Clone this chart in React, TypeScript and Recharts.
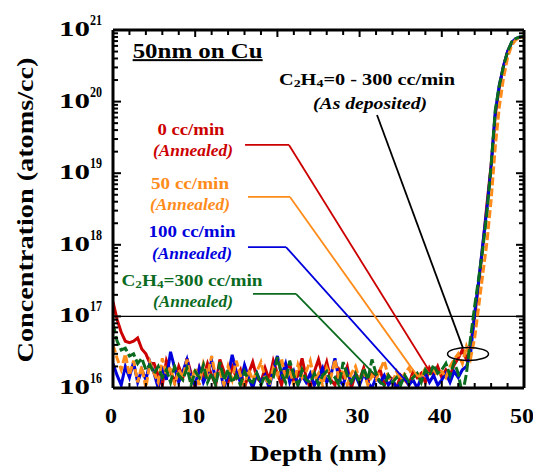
import { Line, LineChart, ReferenceDot, ReferenceLine, XAxis, YAxis } from "recharts";

const FONT = '"Liberation Serif", "Times New Roman", serif';
const W = 533;
const H = 469;

// depth grid (nm), 10 points per row
const depth = [
  0, 0.5, 1, 1.5, 2, 2.5, 3, 3.5, 4, 4.5,
  5, 5.5, 6, 6.5, 7, 7.5, 8, 8.5, 9, 9.5,
  10, 10.5, 11, 11.5, 12, 12.5, 13, 13.5, 14, 14.5,
  15, 15.5, 16, 16.5, 17, 17.5, 18, 18.5, 19, 19.5,
  20, 20.5, 21, 21.5, 22, 22.5, 23, 23.5, 24, 24.5,
  25, 25.5, 26, 26.5, 27, 27.5, 28, 28.5, 29, 29.5,
  30, 30.5, 31, 31.5, 32, 32.5, 33, 33.5, 34, 34.5,
  35, 35.5, 36, 36.5, 37, 37.5, 38, 38.5, 39, 39.5,
  40, 40.5, 41, 41.5, 42, 42.5, 43, 43.5, 44, 44.5,
  45, 45.5, 46, 46.5, 47, 47.5, 48, 48.5, 49, 49.5,
  50,
];

// concentrations in units of 1e16 atoms/cc
const ann0 = [
  16, 9, 6, 4.5, 4.3, 4.5, 5, 3.5, 3.0, 2.2,
  2.2, 1.5, 1.1, 2.4, 1.7, 1.2, 2.0, 1.4, 2.6, 1.6,
  1.0, 1.9, 1.4, 2.2, 1.5, 1.1, 2.5, 1.7, 1.2, 2.0,
  1.4, 1.8, 1.0, 1.6, 2.3, 1.4, 1.2, 1.9, 1.3, 2.4,
  1.6, 1.1, 1.8, 2.2, 1.2, 1.5, 2.6, 1.4, 1.0, 1.7,
  2.5, 1.5, 2.3, 1.3, 1.1, 1.8, 1.4, 2.0, 1.0, 1.6,
  1.3, 1.9, 1.2, 1.6, 1.4, 1.8, 1.1, 1.5, 1.3, 1.0,
  1.5, 1.3, 1.1, 1.7, 1.4, 1.6, 1.2, 1.9, 1.5, 2.0,
  1.4, 1.8, 1.5, 2.1, 2.6, 3.4, 2.5, 4.0, 10, 30,
  100, 380, 1300, 6500, 16000, 31000, 50000, 66000, 75000, 79000,
  80000,
];

const ann50 = [
  4, 2.6, 1.8, 3.0, 1.5, 2.4, 1.2, 2.0, 1.0, 2.3,
  1.6, 1.2, 2.6, 1.5, 2.0, 1.1, 1.8, 1.4, 2.5, 1.2,
  1.9, 1.1, 2.2, 1.5, 2.8, 1.4, 1.7, 1.1, 2.0, 1.3,
  2.4, 1.5, 1.1, 1.8, 1.3, 1.7, 2.3, 1.4, 1.1, 1.9,
  1.5, 2.6, 1.3, 1.8, 1.1, 2.1, 1.4, 1.7, 2.4, 1.3,
  1.6, 1.1, 1.9, 1.4, 2.5, 1.3, 1.8, 1.1, 1.6, 2.0,
  1.3, 1.7, 1.1, 1.5, 1.3, 1.8, 2.4, 1.4, 1.2, 1.7,
  1.3, 1.6, 1.9, 1.4, 1.7, 1.3, 2.0, 1.6, 1.8, 1.5,
  1.7, 1.4, 2.0, 2.5, 3.0, 2.2, 3.8, 2.6, 5.0, 14,
  40, 110, 420, 2300, 8500, 21000, 41000, 61000, 73000, 78500,
  80000,
];

const ann100 = [
  2.2, 1.5, 1.1, 2.0, 1.4, 2.3, 1.2, 1.8, 1.3, 2.3,
  1.6, 1.0, 2.0, 1.3, 3.2, 1.9, 1.2, 1.7, 2.5, 1.4,
  1.1, 1.9, 1.2, 1.6, 2.4, 1.3, 1.8, 1.0, 1.5, 2.9,
  1.7, 1.2, 2.1, 1.4, 1.0, 1.6, 1.2, 1.5, 1.0, 1.8,
  2.8, 1.5, 2.2, 1.2, 1.7, 1.1, 1.5, 1.2, 1.6, 1.1,
  1.4, 1.9, 1.2, 1.5, 2.6, 1.3, 1.1, 1.7, 1.2, 1.5,
  1.1, 1.6, 1.2, 1.0, 1.4, 1.2, 1.5, 1.1, 1.3, 1.0,
  1.2, 1.4, 1.1, 1.3, 1.0, 1.4, 1.6, 1.2, 1.5, 1.1,
  1.3, 1.6, 1.2, 1.7, 1.4, 1.8, 2.0, 3.0, 11, 32,
  105, 330, 1200, 7000, 17000, 31000, 50000, 67000, 76000, 80000,
  80500,
];

const ann300 = [
  8, 4.5, 3.4, 3.6, 2.8, 3.0, 2.2, 2.6, 1.8, 2.1,
  1.6, 2.0, 1.4, 1.8, 1.2, 2.0, 1.5, 1.3, 1.9, 1.1,
  1.7, 1.4, 2.1, 1.2, 1.6, 1.1, 2.3, 1.3, 1.8, 1.2,
  1.5, 1.1, 1.7, 1.3, 1.2, 1.6, 1.1, 1.5, 1.2, 1.4,
  2.7, 1.6, 1.2, 2.4, 1.5, 1.1, 1.8, 1.3, 1.2, 1.6,
  1.1, 1.5, 1.7, 1.2, 1.4, 1.1, 2.3, 1.5, 1.2, 1.6,
  1.2, 1.9, 1.3, 2.5, 1.6, 1.2, 1.1, 1.5, 1.2, 1.4,
  1.1, 1.5, 1.2, 1.4, 1.6, 1.2, 1.8, 1.5, 2.1, 1.6,
  1.8, 2.2, 1.5, 2.3, 1.6, 0.8, 1.6, 5.0, 14, 35,
  90, 290, 1300, 7500, 17000, 31000, 50000, 68000, 76000, 80000,
  81000,
];

const xTicks = [0, 2, 4, 6, 8, 10, 12, 14, 16, 18, 20, 22, 24, 26, 28, 30, 32, 34, 36, 38, 40, 42, 44, 46, 48, 50];
const xLabels = [0, 10, 20, 30, 40, 50];
const decades = [16, 17, 18, 19, 20, 21];
const minorSteps = [2, 3, 4, 5, 6, 7, 8, 9];

const yTicks: number[] = [];
decades.forEach((e) => {
  yTicks.push(10 ** e);
  if (e < 21) minorSteps.forEach((m) => yTicks.push(m * 10 ** e));
});

const rows = depth.map((d, i) => ({
  depth: d,
  a0: ann0[i] * 1e16,
  a50: ann50[i] * 1e16,
  a100: ann100[i] * 1e16,
  a300: ann300[i] * 1e16,
}));

const series = [
  { key: "a0", color: "#cc0000", dash: undefined },
  { key: "a100", color: "#0000dd", dash: undefined },
  { key: "a50", color: "#ff8c1a", dash: "8 3" },
  { key: "a300", color: "#0b6b1f", dash: "10 3" },
];

// leader lines from the labels down to the profiles
const leaders = [
  { color: "#cc0000", pts: [[16.06, 2.48e19], [21.41, 2.48e19], [38.56, 1.67e16]] },
  { color: "#ff8c1a", pts: [[16.42, 4.66e18], [21.53, 4.66e18], [37.1, 1.43e16]] },
  { color: "#0000dd", pts: [[16.42, 9.3e17], [21.05, 9.3e17], [35.77, 1.21e16]] },
  { color: "#0b6b1f", pts: [[17.03, 2.06e17], [22.26, 2.06e17], [31.87, 1.52e16]] },
  { color: "#000", pts: [[32.12, 6.5e19], [42.58, 3.6e16]] },
];

type Note = {
  x: number;
  y: number;
  text: string;
  color: string;
  size: number;
  width: number;
  italic?: boolean;
  chem?: boolean;
  underline?: boolean;
};

const notes: Note[] = [
  { x: 10.3, y: 5.0e20, text: "50nm on Cu", color: "#000", size: 20, width: 130, underline: true },
  { x: 30.9, y: 2.0e20, text: "=0 - 300 cc/min", color: "#000", size: 16, width: 176, chem: true },
  { x: 31.27, y: 9.25e19, text: "(As deposited)", color: "#000", size: 16, width: 114, italic: true },
  { x: 9.49, y: 4.0e19, text: "0 cc/min", color: "#cc0000", size: 16, width: 67 },
  { x: 9.73, y: 2.04e19, text: "(Annealed)", color: "#cc0000", size: 16, width: 80, italic: true },
  { x: 9.37, y: 7.06e18, text: "50 cc/min", color: "#ff8c1a", size: 16, width: 78 },
  { x: 9.37, y: 3.6e18, text: "(Annealed)", color: "#ff8c1a", size: 16, width: 80, italic: true },
  { x: 9.61, y: 1.51e18, text: "100 cc/min", color: "#0000dd", size: 16, width: 87 },
  { x: 9.61, y: 7.45e17, text: "(Annealed)", color: "#0000dd", size: 16, width: 80, italic: true },
  { x: 9.61, y: 3.12e17, text: "=300 cc/min", color: "#0b6b1f", size: 16, width: 141, chem: true },
  { x: 9.73, y: 1.59e17, text: "(Annealed)", color: "#0b6b1f", size: 16, width: 80, italic: true },
];

function NoteText({ cx, cy, note }: { cx: number; cy: number; note: Note }) {
  return (
    <text
      x={cx}
      y={cy}
      dy={note.size * 0.33}
      textAnchor="middle"
      fontFamily={FONT}
      fontWeight="bold"
      fontStyle={note.italic ? "italic" : "normal"}
      fontSize={note.size}
      fill={note.color}
      textLength={note.width}
      lengthAdjust="spacingAndGlyphs"
      textDecoration={note.underline ? "underline" : undefined}
    >
      {note.chem ? (
        <>
          C<tspan fontSize={11} dy={1.5}>2</tspan>
          <tspan dy={-1.5}>H</tspan>
          <tspan fontSize={11} dy={1.5}>4</tspan>
          <tspan dy={-1.5}>{note.text}</tspan>
        </>
      ) : (
        note.text
      )}
    </text>
  );
}

function BottomTick(p: any) {
  const { x, y, payload } = p;
  const v = payload.value as number;
  const major = xLabels.includes(v);
  return (
    <g>
      <line x1={x} x2={x} y1={y} y2={y - (major ? 7 : 5)} stroke="#000" strokeWidth={2} />
      {major && (
        <text
          x={x - 2}
          y={y + 35}
          textAnchor="middle"
          fontFamily={FONT}
          fontWeight="bold"
          fontSize={20}
          textLength={String(v).length * 12}
          lengthAdjust="spacingAndGlyphs"
        >
          {v}
        </text>
      )}
    </g>
  );
}

function TopTick(p: any) {
  const { x, y, payload } = p;
  const major = xLabels.includes(payload.value);
  return <line x1={x} x2={x} y1={y} y2={y + (major ? 7 : 5)} stroke="#000" strokeWidth={2} />;
}

function isDecade(v: number) {
  const e = Math.round(Math.log10(v));
  return Math.abs(v - 10 ** e) < v * 1e-6;
}

function LeftTick(p: any) {
  const { x, y, payload } = p;
  const v = payload.value as number;
  const major = isDecade(v);
  const e = Math.round(Math.log10(v));
  return (
    <g>
      <line x1={x} x2={x + (major ? 8 : 5)} y1={y} y2={y} stroke="#000" strokeWidth={2} />
      {major && (
        <g fontFamily={FONT} fontWeight="bold">
          <text x={x - 23} y={y + 6} textAnchor="end" fontSize={21} textLength={31} lengthAdjust="spacingAndGlyphs">
            10
          </text>
          <text x={x - 23} y={y - 5} textAnchor="start" fontSize={14} textLength={12} lengthAdjust="spacingAndGlyphs">
            {e}
          </text>
        </g>
      )}
    </g>
  );
}

function RightTick(p: any) {
  const { x, y, payload } = p;
  const major = isDecade(payload.value);
  return <line x1={x} x2={x - (major ? 8 : 5)} y1={y} y2={y} stroke="#000" strokeWidth={2} />;
}

const frame = { stroke: "#000", strokeWidth: 3 };

export default function App() {
  return (
    <div style={{ position: "absolute", left: 0, top: 0, width: W, height: H, background: "#fff" }}>
      <LineChart width={W} height={H} data={rows} margin={{ top: 0, right: 0, bottom: 0, left: 0 }}>
        <XAxis
          dataKey="depth"
          type="number"
          domain={[0, 50]}
          ticks={xTicks}
          interval={0}
          height={81}
          tickSize={0}
          tickMargin={0}
          tickLine={false}
          axisLine={frame}
          tick={(p: any) => <BottomTick {...p} />}
          allowDataOverflow
        />
        <XAxis
          xAxisId="top"
          orientation="top"
          dataKey="depth"
          type="number"
          domain={[0, 50]}
          ticks={xTicks}
          interval={0}
          height={30}
          tickSize={0}
          tickMargin={0}
          tickLine={false}
          axisLine={frame}
          tick={(p: any) => <TopTick {...p} />}
          allowDataOverflow
        />
        <YAxis
          scale="log"
          type="number"
          domain={[1e16, 1e21]}
          ticks={yTicks}
          interval={0}
          width={113}
          tickSize={0}
          tickMargin={0}
          tickLine={false}
          axisLine={frame}
          tick={(p: any) => <LeftTick {...p} />}
          allowDataOverflow
        />
        <YAxis
          yAxisId="right"
          orientation="right"
          scale="log"
          type="number"
          domain={[1e16, 1e21]}
          ticks={yTicks}
          interval={0}
          width={9}
          tickSize={0}
          tickMargin={0}
          tickLine={false}
          axisLine={frame}
          tick={(p: any) => <RightTick {...p} />}
          allowDataOverflow
        />
        <ReferenceLine y={1e17} stroke="#000" strokeWidth={1.2} />
        {series.map((s) => (
          <Line
            key={s.key}
            dataKey={s.key}
            type="linear"
            stroke={s.color}
            strokeWidth={3}
            strokeDasharray={s.dash}
            dot={false}
            activeDot={false}
            isAnimationActive={false}
          />
        ))}
        {leaders.flatMap((l, li) =>
          l.pts.slice(1).map((pt, i) => (
            <ReferenceLine
              key={`${li}-${i}`}
              segment={[
                { x: l.pts[i][0], y: l.pts[i][1] },
                { x: pt[0], y: pt[1] },
              ]}
              stroke={l.color}
              strokeWidth={1.8}
            />
          ))
        )}
        <ReferenceDot
          x={43.19}
          y={2.99e16}
          r={0}
          shape={(p: any) => (
            <ellipse cx={p.cx} cy={p.cy} rx={20.5} ry={6.5} fill="none" stroke="#000" strokeWidth={1.5} />
          )}
        />
        {notes.map((n, i) => (
          <ReferenceDot
            key={`n${i}`}
            x={n.x}
            y={n.y}
            r={0}
            shape={(p: any) => <NoteText cx={p.cx} cy={p.cy} note={n} />}
          />
        ))}
      </LineChart>
      <svg
        width={W}
        height={H}
        style={{ position: "absolute", left: 0, top: 0, pointerEvents: "none" }}
      >
        <text
          x={318}
          y={461}
          textAnchor="middle"
          fontFamily={FONT}
          fontWeight="bold"
          fontSize={23}
          textLength={137}
          lengthAdjust="spacingAndGlyphs"
        >
          Depth (nm)
        </text>
        <text
          transform="translate(33,210) rotate(-90)"
          textAnchor="middle"
          fontFamily={FONT}
          fontWeight="bold"
          fontSize={23}
          textLength={305}
          lengthAdjust="spacingAndGlyphs"
        >
          Concentration (atoms/cc)
        </text>
      </svg>
    </div>
  );
}
